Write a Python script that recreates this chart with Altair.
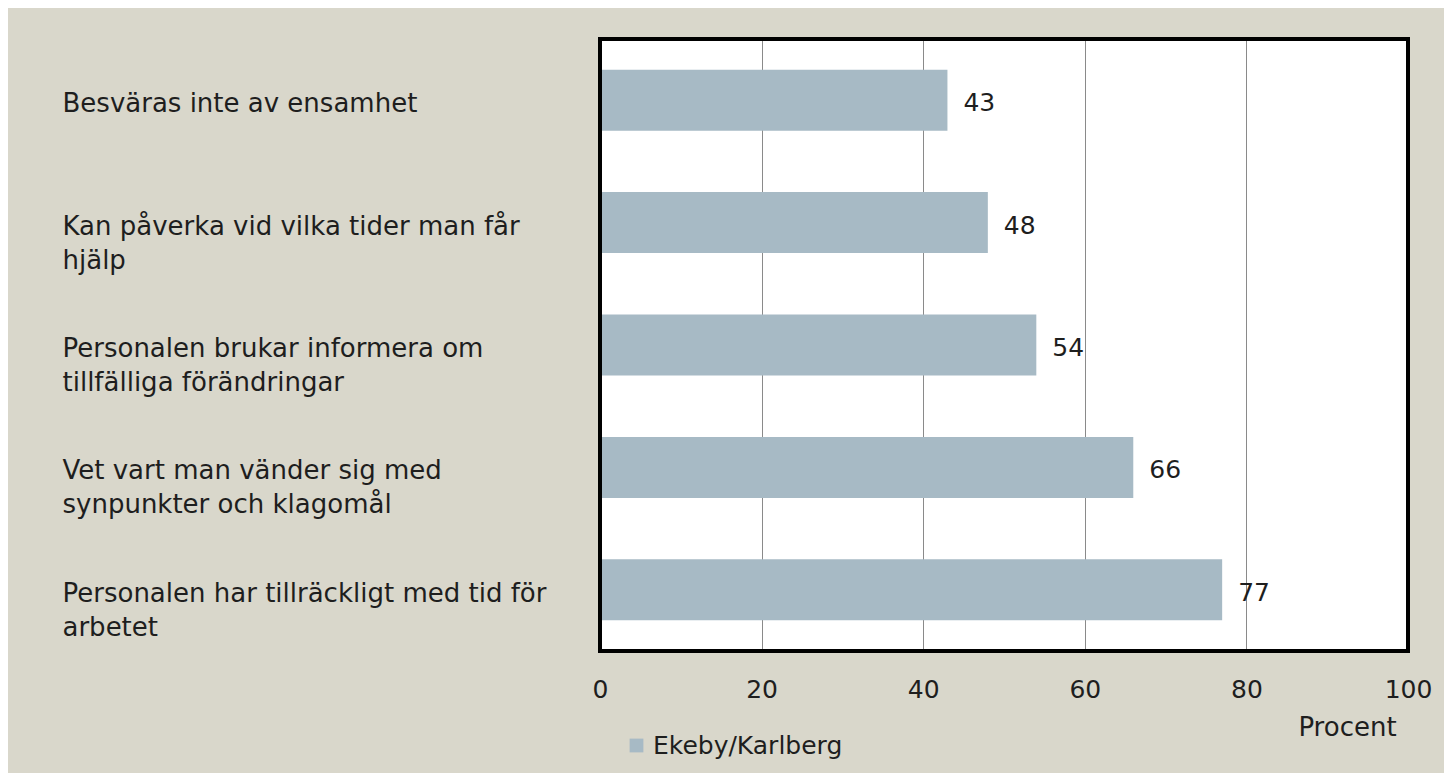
import altair as alt
import pandas as pd

categories = [
    "Besväras inte av ensamhet",
    "Kan påverka vid vilka tider man får|hjälp",
    "Personalen brukar informera om|tillfälliga förändringar",
    "Vet vart man vänder sig med|synpunkter och klagomål",
    "Personalen har tillräckligt med tid för|arbetet",
]
values = [43, 48, 54, 66, 77]
series_name = "Ekeby/Karlberg"
x_ticks = [0, 20, 40, 60, 80, 100]

df = pd.DataFrame({"kategori": categories, "procent": values, "serie": series_name})

FONT = "DejaVu Sans"
TXT = "#1e1e1e"

y_enc = alt.Y(
    "kategori:N",
    sort=categories,
    scale=alt.Scale(paddingInner=0.5, paddingOuter=0.25),
    axis=alt.Axis(
        title=None,
        ticks=False,
        domain=False,
        labelAlign="left",
        labelBaseline="top",
        labelOffset=-9,
        labelPadding=538,
        labelLimit=600,
        labelFontSize=26,
        labelFont=FONT,
        labelColor=TXT,
        labelLineHeight=34,
        labelExpr="split(datum.label, '|')",
    ),
)

x_enc = alt.X(
    "procent:Q",
    scale=alt.Scale(domain=[0, 100], nice=False),
    axis=alt.Axis(
        values=x_ticks,
        title="Procent",
        titleFont=FONT,
        titleFontSize=26,
        titleFontWeight="normal",
        titleColor=TXT,
        titleX=747,
        titleY=76,
        titleAlign="center",
        titleBaseline="middle",
        ticks=False,
        domain=False,
        grid=True,
        gridColor="#8a8a8a",
        gridWidth=1,
        labelFlush=False,
        labelPadding=26,
        labelFontSize=25,
        labelFont=FONT,
        labelColor=TXT,
    ),
)

bars = alt.Chart(df).mark_bar(size=61).encode(
    y=y_enc,
    x=x_enc,
    color=alt.Color(
        "serie:N",
        scale=alt.Scale(range=["#A7BAC5"]),
        legend=alt.Legend(
            title=None,
            orient="none",
            legendX=24,
            legendY=694,
            symbolType="square",
            symbolSize=190,
            symbolStrokeWidth=0,
            labelFont=FONT,
            labelFontSize=25,
            labelColor=TXT,
            labelOffset=4,
            labelLimit=400,
        ),
    ),
)

text = alt.Chart(df).mark_text(
    align="left", baseline="middle", dx=16, dy=3, fontSize=25, font=FONT, color=TXT
).encode(
    y=alt.Y("kategori:N", sort=categories),
    x=alt.X("procent:Q"),
    text=alt.Text("procent:Q"),
)

frame = alt.Chart(df).mark_rect(
    fill=None, stroke="black", strokeWidth=4
).encode(
    x=alt.value(0), x2=alt.value(808), y=alt.value(0), y2=alt.value(612)
)

chart = (
    alt.layer(bars, text, frame)
    .properties(
        width=808,
        height=612,
        background="#D9D7CB",
        padding={"left": 592, "top": 31, "right": 36, "bottom": 122},
        autosize=alt.AutoSizeParams(type="none"),
    )
    .configure_view(stroke=None, fill="white")
)

chart.save("out.html", embed_options={"renderer": "svg", "actions": False})
